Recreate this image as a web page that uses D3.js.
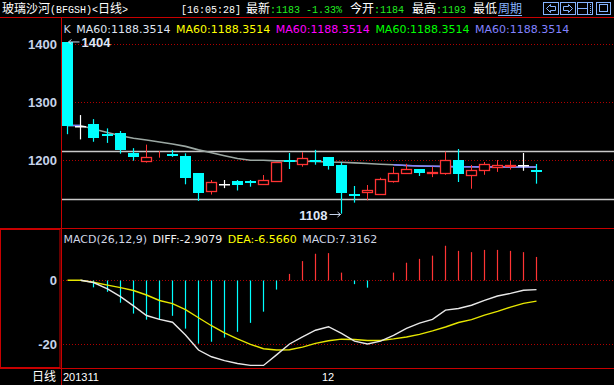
<!DOCTYPE html>
<html>
<head>
<meta charset="utf-8">
<script src="https://cdn.jsdelivr.net/npm/d3@7"></script>
<style>
body { margin: 0; background: #000; overflow: hidden; }
svg { display: block; }
</style>
</head>
<body>
<div id="chart"></div>
<script>
// daily candles
const opens  = [1404, 1260, 1262.6, 1246, 1247, 1213, 1197.6, 1210.5, 1211, 1207.4, 1178, 1145, 1159, 1164.3, 1163.6, 1158, 1163, 1200, 1192.4, 1200, 1205.7, 1192, 1142.5, 1144, 1140.7, 1163, 1177, 1185, 1177, 1177, 1200.5, 1173.4, 1182, 1187.2, 1188, 1191.4, 1184];
const highs  = [1404, 1278, 1271, 1255, 1250.5, 1221, 1227, 1216, 1218, 1212, 1178, 1166, 1166, 1166, 1166, 1174.6, 1197, 1212.6, 1214, 1218, 1205.7, 1196, 1155.7, 1157.4, 1170, 1188.4, 1194, 1185, 1189, 1215, 1219.5, 1192, 1197, 1200.5, 1199, 1212.6, 1193.6];
const lows   = [1245, 1236, 1232, 1230, 1211.4, 1199.3, 1196, 1204.5, 1206, 1158.6, 1130, 1141, 1152, 1148, 1154.5, 1158, 1163, 1185, 1189, 1192.4, 1184, 1108, 1127, 1131, 1140.7, 1161.4, 1177, 1173, 1171, 1175, 1162.6, 1151, 1175, 1180, 1184, 1182, 1159.7];
const closes = [1260, 1260, 1239, 1243, 1218.3, 1206, 1205, 1211, 1210, 1170, 1144, 1162, 1159, 1158, 1161, 1166, 1197, 1199, 1203.4, 1199, 1190.7, 1144, 1141.5, 1148.8, 1167.8, 1178, 1185, 1178.6, 1180, 1200.5, 1177, 1182.8, 1193.6, 1192, 1192, 1191.4, 1183];
const ma60   = [1260, 1260, 1254, 1248, 1242.4, 1238, 1235, 1231.6, 1228, 1224, 1218, 1213, 1207.8, 1203, 1200, 1200, 1199, 1199, 1198.5, 1198, 1197, 1196.6, 1195.5, 1194.5, 1193.3, 1192.2, 1191, 1190.2, 1189.8, 1189.4, 1189, 1188.8, 1188.6, 1188.5, 1188.4, 1188.4, 1188.35];

// MACD(26,12,9)
const macdBars = [0, 0, -2.2, -3.6, -7, -10.4, -12.3, -12.1, -11.1, -15.1, -19.8, -19.2, -17.9, -16.1, -13.3, -9.8, -2.9, 2, 6, 8.3, 8.5, 2.4, -1.2, -2.3, -0.2, 2.4, 5.5, 6.7, 7.7, 10.8, 9.2, 8.8, 9.5, 9.5, 9.2, 8.8, 7.3];
const diff = [null, 0, -0.7, -2.7, -5.1, -8, -11, -12.2, -13.1, -17.1, -21.8, -23.9, -25.1, -26, -26.6, -26.6, -23.3, -19.9, -17.7, -15.6, -14.5, -16.6, -19, -19.9, -19, -17.2, -15, -13.4, -12.2, -9.3, -8.8, -7.8, -6.3, -4.9, -4.1, -3.1, -2.9];
const dea  = [0, 0, -0.6, -1.5, -2.3, -3.2, -4.6, -6.3, -7.3, -9.2, -11.7, -14.2, -16.4, -18.3, -20, -21.4, -21.8, -21.7, -20.9, -19.7, -18.9, -18.4, -18.5, -18.8, -18.8, -18.3, -17.7, -16.9, -15.8, -14.6, -13.2, -12.3, -10.9, -9.7, -8.4, -7.2, -6.5];

const priceTicks = [1400, 1300, 1200];
const macdTicks = [0, -20];
const levels = [1216, 1133];        // the two grey horizontal lines
const dateIdx = [0, 20];
const dateText = ['201311', '12'];
const maLegend = ['MA60:1188.3514', 'MA60:1188.3514', 'MA60:1188.3514', 'MA60:1188.3514', 'MA60:1188.3514'];
const maColors = ['#dfe3f0', '#ffff00', '#ff00ff', '#00ff00', '#8282ff'];
const macdLegend = ['MACD(26,12,9)', 'DIFF:-2.9079', 'DEA:-6.5660', 'MACD:7.3162'];
const macdColors = ['#d0d6e4', '#f2f2f2', '#ffff00', '#d0d6e4'];

const W = 614, H = 385;
const RED = '#c80000', CYAN = '#00ffff', UP = '#ff3434';
const n = opens.length;

var svg = d3.select('#chart').append('svg')
	.attr('width', W)
	.attr('height', H)
	.style('background', '#000');

// scales
var x = d3.scaleBand()
	.domain(d3.range(n))
	.range([61.5, 61.5 + n * 13.01])
	.paddingInner(0.15)
	.paddingOuter(0.075);
var bw = Math.round(x.bandwidth());
var left = i => Math.round(x(i));
var cx = i => left(i) + Math.floor(bw / 2) + 0.5;

var y = d3.scaleLinear().domain([1100, 1400]).range([218.3, 44.3]);
var ym = d3.scaleLinear().domain([-20, 0]).range([344.3, 280.3]);

// frame lines
var frame = svg.append('g').attr('stroke', RED).attr('stroke-width', 1);
frame.append('line').attr('x1', 0).attr('x2', W).attr('y1', 17.5).attr('y2', 17.5);
frame.append('line').attr('x1', 61.5).attr('x2', 61.5).attr('y1', 17.5).attr('y2', H);
frame.append('line').attr('x1', 0).attr('x2', W).attr('y1', 228.5).attr('y2', 228.5);
frame.append('line').attr('x1', 0).attr('x2', W).attr('y1', 368.5).attr('y2', 368.5);
frame.append('rect').attr('x', 0.5).attr('y', 229.5).attr('width', 59.5).attr('height', 138)
	.attr('fill', 'none');

// dotted grids
function grid(ticks, scale) {
	svg.append('g').selectAll('line')
		.data(ticks)
		.enter().append('line')
		.attr('x1', 63).attr('x2', W)
		.attr('y1', d => Math.round(scale(d)) + 0.5)
		.attr('y2', d => Math.round(scale(d)) + 0.5)
		.attr('stroke', '#b00000')
		.attr('stroke-dasharray', '1,2');
}
grid(priceTicks, y);
grid(macdTicks, ym);

svg.append('g').selectAll('line')
	.data(levels)
	.enter().append('line')
	.attr('x1', 62).attr('x2', W)
	.attr('y1', d => Math.round(y(d)) + 0.5)
	.attr('y2', d => Math.round(y(d)) + 0.5)
	.attr('stroke', '#c8c8c8')
	.attr('stroke-width', 1.4);

// axes
var axisFont = '"Liberation Sans", Arial, sans-serif';
var yAxis = d3.axisLeft(y).tickValues(priceTicks).tickFormat(d => String(d)).tickSize(0).tickPadding(4);
var gy = svg.append('g').attr('transform', 'translate(61,0)').call(yAxis);
var yAxisM = d3.axisLeft(ym).tickValues(macdTicks).tickFormat(d => String(d)).tickSize(0).tickPadding(4);
var gm = svg.append('g').attr('transform', 'translate(61,0)').call(yAxisM);
[gy, gm].forEach(g => {
	g.select('.domain').remove();
	g.selectAll('text')
		.attr('fill', '#c6d3ea')
		.style('font', 'bold 13px ' + axisFont);
});

// MA60
var ma = d3.line().x((d, i) => cx(i)).y(d => y(d));
svg.append('path').datum(ma60)
	.attr('d', ma)
	.attr('fill', 'none')
	.attr('stroke', '#9ba7a2')
	.attr('stroke-width', 1.6);
svg.append('path').datum(ma60)
	.attr('d', ma.defined((d, i) => i <= 1 || i >= 25))
	.attr('fill', 'none')
	.attr('stroke', '#7f7fff')
	.attr('stroke-width', 1.6);

// candles
var candles = svg.append('g').selectAll('g')
	.data(d3.range(n))
	.enter().append('g');

candles.each(function(i) {
	var g = d3.select(this);
	var o = opens[i], c = closes[i];
	var yo = Math.round(y(o)), yc = Math.round(y(c));
	var yh = y(highs[i]), yl = y(lows[i]);
	if (c > o) {
		// hollow red
		g.append('line').attr('x1', cx(i)).attr('x2', cx(i)).attr('y1', yh).attr('y2', yc)
			.attr('stroke', UP);
		g.append('line').attr('x1', cx(i)).attr('x2', cx(i)).attr('y1', yo).attr('y2', yl)
			.attr('stroke', UP);
		g.append('rect')
			.attr('x', left(i) + 0.5).attr('y', yc + 0.5)
			.attr('width', bw - 1).attr('height', Math.max(yo - yc - 1, 0))
			.attr('fill', '#000').attr('stroke', UP).attr('stroke-width', 1.3);
	} else {
		var col = c < o ? CYAN : '#ffffff';
		g.append('line').attr('x1', cx(i)).attr('x2', cx(i)).attr('y1', yh).attr('y2', yl)
			.attr('stroke', col).attr('stroke-width', 1.2);
		g.append('rect')
			.attr('x', left(i)).attr('y', yo)
			.attr('width', bw).attr('height', Math.max(yc - yo, c < o ? 2 : 1.5))
			.attr('fill', col);
	}
});

// high / low marks
var iMax = d3.maxIndex(highs), iMin = d3.minIndex(lows);
var markFont = 'bold 13px ' + axisFont;
var hy = y(highs[iMax]);
svg.append('path')
	.attr('d', `M${cx(iMax) + 12},${hy} L${cx(iMax) + 1},${hy} M${cx(iMax) + 4},${hy - 2.5} L${cx(iMax) + 1},${hy} L${cx(iMax) + 4},${hy + 2.5}`)
	.attr('stroke', '#c6d3ea').attr('fill', 'none');
svg.append('text')
	.attr('x', cx(iMax) + 14).attr('y', hy + 5)
	.attr('fill', '#dfe6f5')
	.style('font', markFont)
	.text(String(highs[iMax]));
var ly = Math.round(y(lows[iMin])) + 0.5;
svg.append('path')
	.attr('d', `M${cx(iMin) - 12},${ly} L${cx(iMin) - 1},${ly} M${cx(iMin) - 4},${ly - 2.5} L${cx(iMin) - 1},${ly} L${cx(iMin) - 4},${ly + 2.5}`)
	.attr('stroke', '#c6d3ea').attr('fill', 'none');
svg.append('text')
	.attr('x', cx(iMin) - 14).attr('y', ly + 5)
	.attr('text-anchor', 'end')
	.attr('fill', '#dfe6f5')
	.style('font', markFont)
	.text(String(lows[iMin]));

// MACD bars
svg.append('g').selectAll('line')
	.data(macdBars)
	.enter().append('line')
	.attr('x1', (d, i) => cx(i))
	.attr('x2', (d, i) => cx(i))
	.attr('y1', Math.round(ym(0)) + 0.5)
	.attr('y2', d => ym(d))
	.attr('stroke', d => d > 0 ? UP : d < 0 ? CYAN : 'none')
	.attr('stroke-width', 1.2);

var lineM = d3.line().defined(d => d !== null).x((d, i) => cx(i)).y(d => ym(d));
svg.append('path').datum(dea)
	.attr('d', lineM)
	.attr('fill', 'none').attr('stroke', '#e6e600').attr('stroke-width', 1.4);
svg.append('path').datum(diff)
	.attr('d', lineM)
	.attr('fill', 'none').attr('stroke', '#e8e8e8').attr('stroke-width', 1.4);

// legends (flowing text)
var legFont = '11px "DejaVu Sans", sans-serif';
function flow(items, x0, yb, gap) {
	var xx = x0;
	items.forEach(it => {
		var t = svg.append('text')
			.attr('x', xx).attr('y', yb)
			.attr('fill', it[1])
			.style('font', it[2] || legFont)
			.text(it[0]);
		xx += t.node().getComputedTextLength() + (it[3] !== undefined ? it[3] : gap);
	});
	return xx;
}
flow([['K', '#c6d3ea']].concat(maLegend.map((t, k) => [t, maColors[k]])), 63.5, 33, 5.5);
flow(macdLegend.map((t, k) => [t, macdColors[k]]), 63.5, 243, 5.5);

// top bar
var cjk = '12px "Noto Sans CJK SC", sans-serif';
var mono = '10px "Liberation Mono", "DejaVu Sans Mono", monospace';
var GREEN = '#22ee22';
flow([['玻璃沙河', '#fff', cjk, 0], ['(BFGSH)<', '#fff', mono, 0], ['日线', '#fff', cjk, 0], ['>', '#fff', mono, 0]], 2, 13, 0);
flow([['[16:05:28]', '#fff', mono]], 181, 13, 0);
flow([['最新', '#fff', cjk, 0], [':1183', GREEN, mono, 6], ['-1.33%', GREEN, mono]], 246, 13, 0);
flow([['今开', '#fff', cjk, 0], [':1184', GREEN, mono]], 350, 13, 0);
flow([['最高', '#fff', cjk, 0], [':1193', GREEN, mono]], 412, 13, 0);
flow([['最低', '#fff', cjk]], 473, 13, 0);
svg.append('rect').attr('x', 497).attr('y', 1).attr('width', 26).attr('height', 16).attr('fill', '#000');
var pw = flow([['周期', '#86b4ff', cjk]], 498, 13, 0);
svg.append('line').attr('x1', 498).attr('x2', pw).attr('y1', 15.5).attr('y2', 15.5).attr('stroke', '#86b4ff');

// toolbar icons
var ic = svg.append('g').attr('stroke', '#86b4ff').attr('fill', 'none');
ic.append('rect').attr('x', 543.5).attr('y', 2.5).attr('width', 15).attr('height', 12);
ic.append('path').attr('d', 'M546.5,8.5 L550.5,4.5 L550.5,6.5 L555.5,6.5 L555.5,10.5 L550.5,10.5 L550.5,12.5 Z');
ic.append('rect').attr('x', 560.5).attr('y', 2.5).attr('width', 15).attr('height', 12);
ic.append('path').attr('d', 'M572.5,8.5 L568.5,4.5 L568.5,6.5 L563.5,6.5 L563.5,10.5 L568.5,10.5 L568.5,12.5 Z');
ic.append('rect').attr('x', 577.5).attr('y', 2.5).attr('width', 15).attr('height', 12);
ic.append('path').attr('d', 'M577.5,8.5 L587.5,8.5 M587.5,2.5 L587.5,14.5');
ic.append('path').attr('d', 'M590.5,4 L590.5,13').attr('stroke-dasharray', '1,1');
ic.append('rect').attr('x', 596.5).attr('y', 2.5).attr('width', 14).attr('height', 12);
ic.append('rect').attr('x', 599.5).attr('y', 4.5).attr('width', 8).attr('height', 7);

// bottom bar
svg.append('text')
	.attr('x', 56).attr('y', 381)
	.attr('text-anchor', 'end')
	.attr('fill', '#fff')
	.style('font', cjk)
	.text('日线');
svg.append('g').selectAll('text')
	.data(dateIdx)
	.enter().append('text')
	.attr('x', (d, k) => k === 0 ? 63 : left(d) - 1)
	.attr('y', 381)
	.attr('fill', '#fff')
	.style('font', '11px "Liberation Sans", Arial, sans-serif')
	.text((d, k) => dateText[k]);
</script>
</body>
</html>
